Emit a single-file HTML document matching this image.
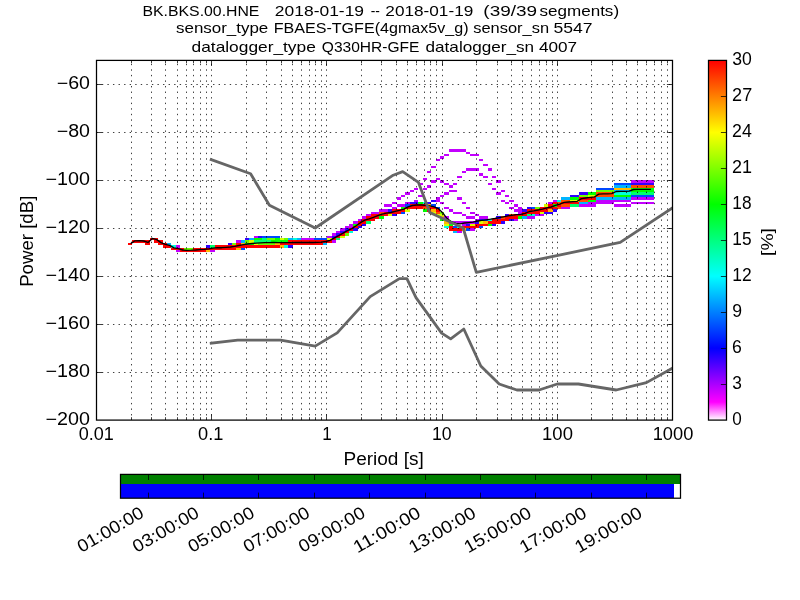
<!DOCTYPE html>
<html><head><meta charset="utf-8"><title>PPSD BK.BKS.00.HNE</title>
<style>html,body{margin:0;padding:0;background:#fff;}svg{display:block;will-change:transform;}text{font-family:"Liberation Sans",sans-serif;fill:#000;}</style></head><body>
<svg width="800" height="600" viewBox="0 0 800 600">
<rect x="0" y="0" width="800" height="600" fill="#ffffff"/>
<g shape-rendering="crispEdges">
<rect x="449" y="149" width="17" height="3" fill="#c300ff"/>
<rect x="466" y="152" width="4" height="2" fill="#c300ff"/>
<rect x="444" y="154" width="5" height="2" fill="#c300ff"/>
<rect x="470" y="154" width="9" height="2" fill="#c300ff"/>
<rect x="440" y="156" width="4" height="3" fill="#c300ff"/>
<rect x="436" y="159" width="4" height="2" fill="#c300ff"/>
<rect x="479" y="159" width="4" height="2" fill="#c300ff"/>
<rect x="483" y="164" width="5" height="2" fill="#c300ff"/>
<rect x="431" y="166" width="5" height="2" fill="#c300ff"/>
<rect x="466" y="168" width="13" height="3" fill="#c300ff"/>
<rect x="488" y="168" width="4" height="3" fill="#c300ff"/>
<rect x="427" y="171" width="4" height="2" fill="#c300ff"/>
<rect x="462" y="171" width="4" height="2" fill="#c300ff"/>
<rect x="479" y="173" width="4" height="3" fill="#c300ff"/>
<rect x="457" y="176" width="5" height="2" fill="#c300ff"/>
<rect x="483" y="176" width="5" height="2" fill="#c300ff"/>
<rect x="492" y="176" width="4" height="2" fill="#c300ff"/>
<rect x="423" y="178" width="4" height="2" fill="#c300ff"/>
<rect x="436" y="178" width="4" height="2" fill="#c300ff"/>
<rect x="431" y="180" width="5" height="3" fill="#c300ff"/>
<rect x="440" y="180" width="4" height="3" fill="#c300ff"/>
<rect x="496" y="180" width="5" height="3" fill="#c300ff"/>
<rect x="631" y="180" width="23" height="3" fill="#c300ff"/>
<rect x="614" y="183" width="17" height="2" fill="#0048ff"/>
<rect x="631" y="183" width="23" height="2" fill="#3100ff"/>
<rect x="418" y="183" width="5" height="2" fill="#c300ff"/>
<rect x="444" y="183" width="5" height="2" fill="#c300ff"/>
<rect x="453" y="183" width="4" height="2" fill="#c300ff"/>
<rect x="488" y="183" width="4" height="2" fill="#c300ff"/>
<rect x="614" y="185" width="17" height="3" fill="#00b5ff"/>
<rect x="427" y="185" width="4" height="3" fill="#c300ff"/>
<rect x="449" y="185" width="4" height="3" fill="#c300ff"/>
<rect x="631" y="185" width="23" height="3" fill="#ff4c00"/>
<rect x="596" y="188" width="18" height="2" fill="#0048ff"/>
<rect x="631" y="188" width="23" height="2" fill="#00ff02"/>
<rect x="414" y="188" width="4" height="2" fill="#c300ff"/>
<rect x="423" y="188" width="4" height="2" fill="#c300ff"/>
<rect x="492" y="188" width="4" height="2" fill="#c300ff"/>
<rect x="614" y="188" width="17" height="2" fill="#ffb900"/>
<rect x="614" y="190" width="17" height="2" fill="#00b5ff"/>
<rect x="631" y="190" width="23" height="2" fill="#00ff02"/>
<rect x="596" y="190" width="18" height="2" fill="#6bff00"/>
<rect x="410" y="190" width="4" height="2" fill="#c300ff"/>
<rect x="449" y="190" width="8" height="2" fill="#c300ff"/>
<rect x="501" y="190" width="4" height="2" fill="#c300ff"/>
<rect x="588" y="192" width="8" height="3" fill="#00ff02"/>
<rect x="631" y="192" width="23" height="3" fill="#00ff6f"/>
<rect x="614" y="192" width="17" height="3" fill="#00ffdc"/>
<rect x="579" y="192" width="9" height="3" fill="#3100ff"/>
<rect x="405" y="192" width="5" height="3" fill="#c300ff"/>
<rect x="444" y="192" width="5" height="3" fill="#c300ff"/>
<rect x="496" y="192" width="5" height="3" fill="#c300ff"/>
<rect x="596" y="192" width="18" height="3" fill="#ff4c00"/>
<rect x="631" y="195" width="23" height="2" fill="#0048ff"/>
<rect x="614" y="195" width="17" height="2" fill="#00ff02"/>
<rect x="570" y="195" width="9" height="2" fill="#3100ff"/>
<rect x="579" y="195" width="9" height="2" fill="#6bff00"/>
<rect x="401" y="195" width="4" height="2" fill="#c300ff"/>
<rect x="418" y="195" width="5" height="2" fill="#c300ff"/>
<rect x="440" y="195" width="4" height="2" fill="#c300ff"/>
<rect x="505" y="195" width="4" height="2" fill="#c300ff"/>
<rect x="588" y="195" width="8" height="2" fill="#d8ff00"/>
<rect x="596" y="195" width="18" height="2" fill="#ff4c00"/>
<rect x="561" y="197" width="9" height="3" fill="#00b5ff"/>
<rect x="596" y="197" width="35" height="3" fill="#00b5ff"/>
<rect x="570" y="197" width="9" height="3" fill="#00ff02"/>
<rect x="397" y="197" width="4" height="3" fill="#c300ff"/>
<rect x="436" y="197" width="4" height="3" fill="#c300ff"/>
<rect x="457" y="197" width="5" height="3" fill="#c300ff"/>
<rect x="631" y="197" width="23" height="3" fill="#c300ff"/>
<rect x="579" y="197" width="17" height="3" fill="#ff0000"/>
<rect x="588" y="200" width="8" height="2" fill="#00ff02"/>
<rect x="557" y="200" width="4" height="2" fill="#00ffdc"/>
<rect x="431" y="200" width="5" height="2" fill="#3100ff"/>
<rect x="414" y="200" width="4" height="2" fill="#c300ff"/>
<rect x="436" y="200" width="4" height="2" fill="#c300ff"/>
<rect x="501" y="200" width="4" height="2" fill="#c300ff"/>
<rect x="509" y="200" width="5" height="2" fill="#c300ff"/>
<rect x="553" y="200" width="4" height="2" fill="#c300ff"/>
<rect x="596" y="200" width="35" height="2" fill="#c300ff"/>
<rect x="570" y="200" width="9" height="2" fill="#d8ff00"/>
<rect x="561" y="200" width="9" height="2" fill="#ff4c00"/>
<rect x="579" y="200" width="9" height="2" fill="#ff4c00"/>
<rect x="579" y="202" width="9" height="2" fill="#00b5ff"/>
<rect x="418" y="202" width="5" height="2" fill="#00ff02"/>
<rect x="423" y="202" width="4" height="2" fill="#00ffdc"/>
<rect x="410" y="202" width="8" height="2" fill="#3100ff"/>
<rect x="427" y="202" width="4" height="2" fill="#3100ff"/>
<rect x="392" y="202" width="5" height="2" fill="#c300ff"/>
<rect x="405" y="202" width="5" height="2" fill="#c300ff"/>
<rect x="440" y="202" width="4" height="2" fill="#c300ff"/>
<rect x="462" y="202" width="4" height="2" fill="#c300ff"/>
<rect x="505" y="202" width="4" height="2" fill="#c300ff"/>
<rect x="548" y="202" width="5" height="2" fill="#c300ff"/>
<rect x="588" y="202" width="26" height="2" fill="#c300ff"/>
<rect x="631" y="202" width="23" height="2" fill="#c300ff"/>
<rect x="553" y="202" width="4" height="2" fill="#ff0000"/>
<rect x="561" y="202" width="18" height="2" fill="#ff0000"/>
<rect x="557" y="202" width="4" height="2" fill="#ff4c00"/>
<rect x="405" y="204" width="5" height="3" fill="#0048ff"/>
<rect x="431" y="204" width="5" height="3" fill="#0048ff"/>
<rect x="553" y="204" width="4" height="3" fill="#00ff02"/>
<rect x="570" y="204" width="9" height="3" fill="#00ff6f"/>
<rect x="384" y="204" width="8" height="3" fill="#c300ff"/>
<rect x="397" y="204" width="8" height="3" fill="#c300ff"/>
<rect x="514" y="204" width="4" height="3" fill="#c300ff"/>
<rect x="579" y="204" width="17" height="3" fill="#c300ff"/>
<rect x="614" y="204" width="17" height="3" fill="#c300ff"/>
<rect x="544" y="204" width="4" height="3" fill="#d8ff00"/>
<rect x="410" y="204" width="17" height="3" fill="#ff0000"/>
<rect x="548" y="204" width="5" height="3" fill="#ff0000"/>
<rect x="557" y="204" width="4" height="3" fill="#ff0000"/>
<rect x="561" y="204" width="9" height="3" fill="#ff4c00"/>
<rect x="427" y="204" width="4" height="3" fill="#ffb900"/>
<rect x="436" y="207" width="4" height="2" fill="#0048ff"/>
<rect x="531" y="207" width="4" height="2" fill="#0048ff"/>
<rect x="401" y="207" width="4" height="2" fill="#00ff02"/>
<rect x="527" y="207" width="4" height="2" fill="#3100ff"/>
<rect x="535" y="207" width="5" height="2" fill="#6bff00"/>
<rect x="392" y="207" width="5" height="2" fill="#c300ff"/>
<rect x="444" y="207" width="5" height="2" fill="#c300ff"/>
<rect x="466" y="207" width="4" height="2" fill="#c300ff"/>
<rect x="509" y="207" width="5" height="2" fill="#c300ff"/>
<rect x="518" y="207" width="4" height="2" fill="#c300ff"/>
<rect x="561" y="207" width="9" height="2" fill="#c300ff"/>
<rect x="405" y="207" width="18" height="2" fill="#ff0000"/>
<rect x="427" y="207" width="9" height="2" fill="#ff0000"/>
<rect x="540" y="207" width="17" height="2" fill="#ff0000"/>
<rect x="423" y="207" width="4" height="2" fill="#ff4c00"/>
<rect x="557" y="207" width="4" height="2" fill="#ff4c00"/>
<rect x="423" y="209" width="4" height="3" fill="#00ff02"/>
<rect x="388" y="209" width="4" height="3" fill="#3100ff"/>
<rect x="522" y="209" width="5" height="3" fill="#3100ff"/>
<rect x="553" y="209" width="4" height="3" fill="#3100ff"/>
<rect x="379" y="209" width="9" height="3" fill="#c300ff"/>
<rect x="449" y="209" width="4" height="3" fill="#c300ff"/>
<rect x="514" y="209" width="8" height="3" fill="#c300ff"/>
<rect x="405" y="209" width="5" height="3" fill="#d8ff00"/>
<rect x="392" y="209" width="13" height="3" fill="#ff0000"/>
<rect x="427" y="209" width="4" height="3" fill="#ff0000"/>
<rect x="436" y="209" width="4" height="3" fill="#ff0000"/>
<rect x="527" y="209" width="21" height="3" fill="#ff0000"/>
<rect x="431" y="209" width="5" height="3" fill="#ffb900"/>
<rect x="548" y="209" width="5" height="3" fill="#ffb900"/>
<rect x="401" y="212" width="4" height="2" fill="#0048ff"/>
<rect x="544" y="212" width="9" height="2" fill="#3100ff"/>
<rect x="440" y="212" width="4" height="2" fill="#6bff00"/>
<rect x="371" y="212" width="8" height="2" fill="#c300ff"/>
<rect x="453" y="212" width="9" height="2" fill="#c300ff"/>
<rect x="470" y="212" width="5" height="2" fill="#c300ff"/>
<rect x="518" y="212" width="4" height="2" fill="#c300ff"/>
<rect x="431" y="212" width="5" height="2" fill="#d8ff00"/>
<rect x="540" y="212" width="4" height="2" fill="#d8ff00"/>
<rect x="384" y="212" width="17" height="2" fill="#ff0000"/>
<rect x="522" y="212" width="18" height="2" fill="#ff0000"/>
<rect x="379" y="212" width="5" height="2" fill="#ff4c00"/>
<rect x="436" y="212" width="4" height="2" fill="#ff4c00"/>
<rect x="527" y="214" width="4" height="2" fill="#00ff6f"/>
<rect x="531" y="214" width="4" height="2" fill="#00ffdc"/>
<rect x="392" y="214" width="5" height="2" fill="#3100ff"/>
<rect x="505" y="214" width="4" height="2" fill="#3100ff"/>
<rect x="366" y="214" width="5" height="2" fill="#c300ff"/>
<rect x="462" y="214" width="4" height="2" fill="#c300ff"/>
<rect x="475" y="214" width="4" height="2" fill="#c300ff"/>
<rect x="535" y="214" width="9" height="2" fill="#c300ff"/>
<rect x="388" y="214" width="4" height="2" fill="#d8ff00"/>
<rect x="436" y="214" width="8" height="2" fill="#d8ff00"/>
<rect x="371" y="214" width="17" height="2" fill="#ff0000"/>
<rect x="514" y="214" width="13" height="2" fill="#ff0000"/>
<rect x="509" y="214" width="5" height="2" fill="#ff4c00"/>
<rect x="522" y="216" width="5" height="3" fill="#00b5ff"/>
<rect x="379" y="216" width="5" height="3" fill="#00ff02"/>
<rect x="518" y="216" width="4" height="3" fill="#00ff02"/>
<rect x="496" y="216" width="5" height="3" fill="#3100ff"/>
<rect x="362" y="216" width="4" height="3" fill="#c300ff"/>
<rect x="444" y="216" width="5" height="3" fill="#c300ff"/>
<rect x="466" y="216" width="9" height="3" fill="#c300ff"/>
<rect x="479" y="216" width="9" height="3" fill="#c300ff"/>
<rect x="527" y="216" width="8" height="3" fill="#c300ff"/>
<rect x="366" y="216" width="13" height="3" fill="#ff0000"/>
<rect x="505" y="216" width="13" height="3" fill="#ff0000"/>
<rect x="501" y="216" width="4" height="3" fill="#ff4c00"/>
<rect x="440" y="216" width="4" height="3" fill="#ffb900"/>
<rect x="483" y="219" width="5" height="2" fill="#0048ff"/>
<rect x="440" y="219" width="4" height="2" fill="#00ff02"/>
<rect x="488" y="219" width="4" height="2" fill="#00ffdc"/>
<rect x="479" y="219" width="4" height="2" fill="#3100ff"/>
<rect x="509" y="219" width="5" height="2" fill="#3100ff"/>
<rect x="358" y="219" width="4" height="2" fill="#c300ff"/>
<rect x="475" y="219" width="4" height="2" fill="#c300ff"/>
<rect x="514" y="219" width="4" height="2" fill="#c300ff"/>
<rect x="362" y="219" width="13" height="2" fill="#ff0000"/>
<rect x="492" y="219" width="17" height="2" fill="#ff0000"/>
<rect x="444" y="219" width="5" height="2" fill="#ffb900"/>
<rect x="366" y="221" width="5" height="3" fill="#00ff6f"/>
<rect x="475" y="221" width="4" height="3" fill="#3100ff"/>
<rect x="501" y="221" width="4" height="3" fill="#3100ff"/>
<rect x="353" y="221" width="5" height="3" fill="#c300ff"/>
<rect x="449" y="221" width="26" height="3" fill="#c300ff"/>
<rect x="479" y="221" width="4" height="3" fill="#d8ff00"/>
<rect x="358" y="221" width="8" height="3" fill="#ff0000"/>
<rect x="488" y="221" width="13" height="3" fill="#ff0000"/>
<rect x="444" y="221" width="5" height="3" fill="#ffb900"/>
<rect x="483" y="221" width="5" height="3" fill="#ffb900"/>
<rect x="353" y="224" width="5" height="2" fill="#00ff02"/>
<rect x="449" y="224" width="4" height="2" fill="#00ff02"/>
<rect x="488" y="224" width="4" height="2" fill="#00ff02"/>
<rect x="362" y="224" width="4" height="2" fill="#3100ff"/>
<rect x="466" y="224" width="4" height="2" fill="#3100ff"/>
<rect x="492" y="224" width="4" height="2" fill="#3100ff"/>
<rect x="349" y="224" width="4" height="2" fill="#c300ff"/>
<rect x="462" y="224" width="4" height="2" fill="#c300ff"/>
<rect x="444" y="224" width="5" height="2" fill="#d8ff00"/>
<rect x="470" y="224" width="5" height="2" fill="#d8ff00"/>
<rect x="358" y="224" width="4" height="2" fill="#ff0000"/>
<rect x="475" y="224" width="13" height="2" fill="#ff0000"/>
<rect x="453" y="226" width="4" height="2" fill="#0048ff"/>
<rect x="479" y="226" width="4" height="2" fill="#0048ff"/>
<rect x="444" y="226" width="5" height="2" fill="#00ffdc"/>
<rect x="457" y="226" width="5" height="2" fill="#00ffdc"/>
<rect x="358" y="226" width="4" height="2" fill="#3100ff"/>
<rect x="345" y="226" width="8" height="2" fill="#c300ff"/>
<rect x="353" y="226" width="5" height="2" fill="#ff0000"/>
<rect x="449" y="226" width="4" height="2" fill="#ff0000"/>
<rect x="462" y="226" width="17" height="2" fill="#ff0000"/>
<rect x="466" y="228" width="4" height="3" fill="#0048ff"/>
<rect x="345" y="228" width="4" height="3" fill="#3100ff"/>
<rect x="353" y="228" width="5" height="3" fill="#3100ff"/>
<rect x="340" y="228" width="5" height="3" fill="#c300ff"/>
<rect x="470" y="228" width="5" height="3" fill="#c300ff"/>
<rect x="349" y="228" width="4" height="3" fill="#ff0000"/>
<rect x="449" y="228" width="13" height="3" fill="#ff0000"/>
<rect x="462" y="228" width="4" height="3" fill="#ffb900"/>
<rect x="453" y="231" width="4" height="2" fill="#00b5ff"/>
<rect x="349" y="231" width="4" height="2" fill="#00ffdc"/>
<rect x="340" y="231" width="5" height="2" fill="#3100ff"/>
<rect x="336" y="231" width="4" height="2" fill="#c300ff"/>
<rect x="457" y="231" width="5" height="2" fill="#c300ff"/>
<rect x="345" y="231" width="4" height="2" fill="#ff0000"/>
<rect x="336" y="233" width="4" height="3" fill="#3100ff"/>
<rect x="345" y="233" width="4" height="3" fill="#6bff00"/>
<rect x="332" y="233" width="4" height="3" fill="#c300ff"/>
<rect x="340" y="233" width="5" height="3" fill="#ff0000"/>
<rect x="262" y="236" width="18" height="2" fill="#0048ff"/>
<rect x="258" y="236" width="4" height="2" fill="#3100ff"/>
<rect x="332" y="236" width="4" height="2" fill="#3100ff"/>
<rect x="254" y="236" width="4" height="2" fill="#c300ff"/>
<rect x="327" y="236" width="5" height="2" fill="#c300ff"/>
<rect x="340" y="236" width="5" height="2" fill="#d8ff00"/>
<rect x="336" y="236" width="4" height="2" fill="#ff0000"/>
<rect x="314" y="238" width="13" height="2" fill="#0048ff"/>
<rect x="249" y="238" width="5" height="2" fill="#00b5ff"/>
<rect x="288" y="238" width="5" height="2" fill="#00b5ff"/>
<rect x="297" y="238" width="4" height="2" fill="#00b5ff"/>
<rect x="254" y="238" width="8" height="2" fill="#00ff02"/>
<rect x="275" y="238" width="5" height="2" fill="#00ff02"/>
<rect x="262" y="238" width="5" height="2" fill="#00ff6f"/>
<rect x="336" y="238" width="4" height="2" fill="#00ff6f"/>
<rect x="293" y="238" width="4" height="2" fill="#00ffdc"/>
<rect x="245" y="238" width="4" height="2" fill="#3100ff"/>
<rect x="267" y="238" width="8" height="2" fill="#6bff00"/>
<rect x="284" y="238" width="4" height="2" fill="#6bff00"/>
<rect x="301" y="238" width="13" height="2" fill="#c300ff"/>
<rect x="280" y="238" width="4" height="2" fill="#d8ff00"/>
<rect x="327" y="238" width="5" height="2" fill="#d8ff00"/>
<rect x="150" y="238" width="8" height="2" fill="#ff0000"/>
<rect x="332" y="238" width="4" height="2" fill="#ff0000"/>
<rect x="241" y="240" width="4" height="3" fill="#00b5ff"/>
<rect x="271" y="240" width="17" height="3" fill="#00ff02"/>
<rect x="254" y="240" width="17" height="3" fill="#00ff6f"/>
<rect x="245" y="240" width="4" height="3" fill="#6bff00"/>
<rect x="236" y="240" width="5" height="3" fill="#c300ff"/>
<rect x="332" y="240" width="4" height="3" fill="#c300ff"/>
<rect x="249" y="240" width="5" height="3" fill="#d8ff00"/>
<rect x="132" y="240" width="18" height="3" fill="#ff0000"/>
<rect x="154" y="240" width="9" height="3" fill="#ff0000"/>
<rect x="288" y="240" width="44" height="3" fill="#ff0000"/>
<rect x="167" y="243" width="4" height="2" fill="#00b5ff"/>
<rect x="323" y="243" width="4" height="2" fill="#00b5ff"/>
<rect x="245" y="243" width="9" height="2" fill="#00ff02"/>
<rect x="228" y="243" width="4" height="2" fill="#3100ff"/>
<rect x="232" y="243" width="4" height="2" fill="#6bff00"/>
<rect x="258" y="243" width="17" height="2" fill="#6bff00"/>
<rect x="254" y="243" width="4" height="2" fill="#d8ff00"/>
<rect x="128" y="243" width="4" height="2" fill="#ff0000"/>
<rect x="145" y="243" width="5" height="2" fill="#ff0000"/>
<rect x="158" y="243" width="9" height="2" fill="#ff0000"/>
<rect x="236" y="243" width="5" height="2" fill="#ff0000"/>
<rect x="280" y="243" width="43" height="2" fill="#ff0000"/>
<rect x="241" y="243" width="4" height="2" fill="#ffb900"/>
<rect x="275" y="243" width="5" height="2" fill="#ffb900"/>
<rect x="210" y="245" width="5" height="3" fill="#00ff6f"/>
<rect x="171" y="245" width="5" height="3" fill="#00ffdc"/>
<rect x="284" y="245" width="4" height="3" fill="#00ffdc"/>
<rect x="206" y="245" width="4" height="3" fill="#3100ff"/>
<rect x="288" y="245" width="5" height="3" fill="#3100ff"/>
<rect x="176" y="245" width="4" height="3" fill="#c300ff"/>
<rect x="163" y="245" width="8" height="3" fill="#ff0000"/>
<rect x="215" y="245" width="65" height="3" fill="#ff0000"/>
<rect x="280" y="245" width="4" height="3" fill="#ffb900"/>
<rect x="241" y="248" width="4" height="2" fill="#0048ff"/>
<rect x="184" y="248" width="9" height="2" fill="#6bff00"/>
<rect x="171" y="248" width="13" height="2" fill="#ff0000"/>
<rect x="193" y="248" width="43" height="2" fill="#ff0000"/>
<rect x="236" y="248" width="5" height="2" fill="#ffb900"/>
<rect x="176" y="250" width="4" height="2" fill="#c300ff"/>
<rect x="210" y="250" width="5" height="2" fill="#c300ff"/>
<rect x="180" y="250" width="26" height="2" fill="#ff0000"/>
<rect x="206" y="250" width="4" height="2" fill="#ffb900"/>
</g>
<g stroke="#000" stroke-width="0.75" stroke-dasharray="1.39 4.17" fill="none">
<path d="M131.50 420.00V60.00" stroke-dashoffset="1"/>
<path d="M151.50 420.00V60.00" stroke-dashoffset="1"/>
<path d="M165.50 420.00V60.00" stroke-dashoffset="1"/>
<path d="M177.50 420.00V60.00" stroke-dashoffset="1"/>
<path d="M186.50 420.00V60.00" stroke-dashoffset="1"/>
<path d="M193.50 420.00V60.00" stroke-dashoffset="1"/>
<path d="M200.50 420.00V60.00" stroke-dashoffset="1"/>
<path d="M206.50 420.00V60.00" stroke-dashoffset="1"/>
<path d="M211.50 420.00V60.00" stroke-dashoffset="1"/>
<path d="M246.50 420.00V60.00" stroke-dashoffset="1"/>
<path d="M266.50 420.00V60.00" stroke-dashoffset="1"/>
<path d="M281.50 420.00V60.00" stroke-dashoffset="1"/>
<path d="M292.50 420.00V60.00" stroke-dashoffset="1"/>
<path d="M301.50 420.00V60.00" stroke-dashoffset="1"/>
<path d="M309.50 420.00V60.00" stroke-dashoffset="1"/>
<path d="M315.50 420.00V60.00" stroke-dashoffset="1"/>
<path d="M321.50 420.00V60.00" stroke-dashoffset="1"/>
<path d="M326.50 420.00V60.00" stroke-dashoffset="1"/>
<path d="M361.50 420.00V60.00" stroke-dashoffset="1"/>
<path d="M381.50 420.00V60.00" stroke-dashoffset="1"/>
<path d="M396.50 420.00V60.00" stroke-dashoffset="1"/>
<path d="M407.50 420.00V60.00" stroke-dashoffset="1"/>
<path d="M416.50 420.00V60.00" stroke-dashoffset="1"/>
<path d="M424.50 420.00V60.00" stroke-dashoffset="1"/>
<path d="M430.50 420.00V60.00" stroke-dashoffset="1"/>
<path d="M436.50 420.00V60.00" stroke-dashoffset="1"/>
<path d="M442.50 420.00V60.00" stroke-dashoffset="1"/>
<path d="M476.50 420.00V60.00" stroke-dashoffset="1"/>
<path d="M497.50 420.00V60.00" stroke-dashoffset="1"/>
<path d="M511.50 420.00V60.00" stroke-dashoffset="1"/>
<path d="M522.50 420.00V60.00" stroke-dashoffset="1"/>
<path d="M531.50 420.00V60.00" stroke-dashoffset="1"/>
<path d="M539.50 420.00V60.00" stroke-dashoffset="1"/>
<path d="M546.50 420.00V60.00" stroke-dashoffset="1"/>
<path d="M552.50 420.00V60.00" stroke-dashoffset="1"/>
<path d="M557.50 420.00V60.00" stroke-dashoffset="1"/>
<path d="M591.50 420.00V60.00" stroke-dashoffset="1"/>
<path d="M612.50 420.00V60.00" stroke-dashoffset="1"/>
<path d="M626.50 420.00V60.00" stroke-dashoffset="1"/>
<path d="M637.50 420.00V60.00" stroke-dashoffset="1"/>
<path d="M646.50 420.00V60.00" stroke-dashoffset="1"/>
<path d="M654.50 420.00V60.00" stroke-dashoffset="1"/>
<path d="M661.50 420.00V60.00" stroke-dashoffset="1"/>
<path d="M667.50 420.00V60.00" stroke-dashoffset="1"/>
<path d="M96.00 372.50H672.00" stroke-dashoffset="-0.3"/>
<path d="M96.00 324.50H672.00" stroke-dashoffset="-0.3"/>
<path d="M96.00 276.50H672.00" stroke-dashoffset="-0.3"/>
<path d="M96.00 228.50H672.00" stroke-dashoffset="-0.3"/>
<path d="M96.00 180.50H672.00" stroke-dashoffset="-0.3"/>
<path d="M96.00 132.50H672.00" stroke-dashoffset="-0.3"/>
<path d="M96.00 84.50H672.00" stroke-dashoffset="-0.3"/>
</g>
<polyline points="130.7,243.6 135.0,240.8 139.3,240.7 143.7,241.0 148.0,242.4 152.4,238.4 156.7,239.6 161.0,242.6 165.4,244.4 169.7,245.4 174.0,247.8 178.4,248.7 182.7,250.0 187.0,250.3 191.4,250.2 195.7,250.0 200.0,249.6 204.4,249.3 208.7,248.9 213.0,248.2 217.4,247.7 221.7,247.7 226.0,247.4 230.4,247.0 234.7,246.3 239.0,245.5 243.4,244.6 247.7,244.0 252.1,243.5 256.4,243.1 260.7,242.9 265.1,242.7 269.4,242.6 273.7,242.5 278.1,242.6 282.4,242.6 286.7,242.6 291.1,242.6 295.4,242.5 299.7,242.5 304.1,242.5 308.4,242.5 312.7,242.5 317.1,242.4 321.4,242.2 325.7,241.5 330.1,240.4 334.4,237.8 338.7,235.6 343.1,233.1 347.4,230.6 351.8,228.6 356.1,225.8 360.4,222.7 364.8,220.2 369.1,218.9 373.4,217.4 377.8,215.6 382.1,214.1 386.4,213.1 390.8,212.5 395.1,211.3 399.4,210.3 403.8,209.1 408.1,206.9 412.4,205.5 416.8,205.0 421.1,205.0 425.4,205.3 429.8,205.8 434.1,206.8 438.5,208.7 442.8,212.9 447.1,218.6 451.5,221.8 455.8,223.4 460.1,223.8 464.5,223.0 468.8,222.6 473.1,222.2 477.5,221.0 481.8,220.4 486.1,219.8 490.5,219.2 494.8,218.5 499.1,217.7 503.5,216.8 507.8,215.9 512.1,215.3 516.5,214.7 520.8,214.4 525.1,213.3 529.5,211.5 533.8,210.9 538.2,210.0 542.5,209.1 546.8,207.9 551.2,207.0 555.5,205.3 559.8,204.1 564.2,202.4 568.5,202.0 572.8,201.7 577.2,201.3 581.5,198.6 585.8,198.0 590.2,197.4 594.5,196.9 598.8,194.1 603.2,193.9 607.5,193.8 611.8,193.6 616.2,191.5 620.5,191.4 624.8,191.3 629.2,191.2 633.5,189.5 637.9,189.4 642.2,189.4 646.5,189.4 650.9,189.4" fill="none" stroke="#000" stroke-width="1.35" stroke-linejoin="round"/>
<defs><clipPath id="axclip"><rect x="96" y="60" width="576.5" height="360"/></clipPath></defs>
<polyline points="211.2,159.6 250.6,173.8 269.4,205.2 315.2,228.0 393.2,175.2 402.7,171.6 418.5,182.4 429.8,212.4 463.2,228.0 476.3,272.4 620.2,242.4 672.0,208.3" fill="none" stroke="#666666" stroke-width="2.8" stroke-linejoin="round" stroke-linecap="square" clip-path="url(#axclip)"/>
<polyline points="211.2,343.2 237.7,340.1 280.6,340.1 315.2,346.1 337.2,332.9 370.2,296.6 399.4,278.6 406.9,278.6 416.0,297.6 441.6,333.1 450.7,338.9 463.8,329.0 480.8,366.0 499.2,384.0 516.9,390.0 539.0,390.0 557.3,384.0 578.4,384.0 616.2,390.0 646.4,382.6 672.0,368.4" fill="none" stroke="#666666" stroke-width="2.8" stroke-linejoin="round" stroke-linecap="square" clip-path="url(#axclip)"/>
<g stroke="#000" stroke-width="1.25" fill="none">
<rect x="96.5" y="60.4" width="576" height="359.7"/>
</g>
<g stroke="#000" stroke-width="0.75" fill="none">
<path d="M96.5 372.5h5.6M672.5 372.5h-5.6"/>
<path d="M96.5 324.5h5.6M672.5 324.5h-5.6"/>
<path d="M96.5 276.5h5.6M672.5 276.5h-5.6"/>
<path d="M96.5 228.5h5.6M672.5 228.5h-5.6"/>
<path d="M96.5 180.5h5.6M672.5 180.5h-5.6"/>
<path d="M96.5 132.5h5.6M672.5 132.5h-5.6"/>
<path d="M96.5 84.5h5.6M672.5 84.5h-5.6"/>
<path d="M131.5 420v-2.8M131.5 60.4v2.8"/>
<path d="M151.5 420v-2.8M151.5 60.4v2.8"/>
<path d="M165.5 420v-2.8M165.5 60.4v2.8"/>
<path d="M177.5 420v-2.8M177.5 60.4v2.8"/>
<path d="M186.5 420v-2.8M186.5 60.4v2.8"/>
<path d="M193.5 420v-2.8M193.5 60.4v2.8"/>
<path d="M200.5 420v-2.8M200.5 60.4v2.8"/>
<path d="M206.5 420v-2.8M206.5 60.4v2.8"/>
<path d="M211.5 420v-5.6M211.5 60.4v5.6"/>
<path d="M246.5 420v-2.8M246.5 60.4v2.8"/>
<path d="M266.5 420v-2.8M266.5 60.4v2.8"/>
<path d="M281.5 420v-2.8M281.5 60.4v2.8"/>
<path d="M292.5 420v-2.8M292.5 60.4v2.8"/>
<path d="M301.5 420v-2.8M301.5 60.4v2.8"/>
<path d="M309.5 420v-2.8M309.5 60.4v2.8"/>
<path d="M315.5 420v-2.8M315.5 60.4v2.8"/>
<path d="M321.5 420v-2.8M321.5 60.4v2.8"/>
<path d="M326.5 420v-5.6M326.5 60.4v5.6"/>
<path d="M361.5 420v-2.8M361.5 60.4v2.8"/>
<path d="M381.5 420v-2.8M381.5 60.4v2.8"/>
<path d="M396.5 420v-2.8M396.5 60.4v2.8"/>
<path d="M407.5 420v-2.8M407.5 60.4v2.8"/>
<path d="M416.5 420v-2.8M416.5 60.4v2.8"/>
<path d="M424.5 420v-2.8M424.5 60.4v2.8"/>
<path d="M430.5 420v-2.8M430.5 60.4v2.8"/>
<path d="M436.5 420v-2.8M436.5 60.4v2.8"/>
<path d="M442.5 420v-5.6M442.5 60.4v5.6"/>
<path d="M476.5 420v-2.8M476.5 60.4v2.8"/>
<path d="M497.5 420v-2.8M497.5 60.4v2.8"/>
<path d="M511.5 420v-2.8M511.5 60.4v2.8"/>
<path d="M522.5 420v-2.8M522.5 60.4v2.8"/>
<path d="M531.5 420v-2.8M531.5 60.4v2.8"/>
<path d="M539.5 420v-2.8M539.5 60.4v2.8"/>
<path d="M546.5 420v-2.8M546.5 60.4v2.8"/>
<path d="M552.5 420v-2.8M552.5 60.4v2.8"/>
<path d="M557.5 420v-5.6M557.5 60.4v5.6"/>
<path d="M591.5 420v-2.8M591.5 60.4v2.8"/>
<path d="M612.5 420v-2.8M612.5 60.4v2.8"/>
<path d="M626.5 420v-2.8M626.5 60.4v2.8"/>
<path d="M637.5 420v-2.8M637.5 60.4v2.8"/>
<path d="M646.5 420v-2.8M646.5 60.4v2.8"/>
<path d="M654.5 420v-2.8M654.5 60.4v2.8"/>
<path d="M661.5 420v-2.8M661.5 60.4v2.8"/>
<path d="M667.5 420v-2.8M667.5 60.4v2.8"/>
</g>
<text x="45.51" y="424.80" font-size="17.50" textLength="44.43" lengthAdjust="spacingAndGlyphs">−200</text>
<text x="45.51" y="376.80" font-size="17.50" textLength="44.43" lengthAdjust="spacingAndGlyphs">−180</text>
<text x="45.51" y="328.80" font-size="17.50" textLength="44.43" lengthAdjust="spacingAndGlyphs">−160</text>
<text x="45.51" y="280.80" font-size="17.50" textLength="44.43" lengthAdjust="spacingAndGlyphs">−140</text>
<text x="45.51" y="232.80" font-size="17.50" textLength="44.43" lengthAdjust="spacingAndGlyphs">−120</text>
<text x="45.51" y="184.80" font-size="17.50" textLength="44.43" lengthAdjust="spacingAndGlyphs">−100</text>
<text x="56.72" y="136.80" font-size="17.50" textLength="33.19" lengthAdjust="spacingAndGlyphs">−80</text>
<text x="56.72" y="88.80" font-size="17.50" textLength="33.19" lengthAdjust="spacingAndGlyphs">−60</text>
<text x="78.78" y="440.00" font-size="17.50" textLength="35.05" lengthAdjust="spacingAndGlyphs">0.01</text>
<text x="198.02" y="440.00" font-size="17.50" textLength="25.30" lengthAdjust="spacingAndGlyphs">0.1</text>
<text x="322.32" y="440.00" font-size="17.50" textLength="9.46" lengthAdjust="spacingAndGlyphs">1</text>
<text x="431.97" y="440.00" font-size="17.50" textLength="19.69" lengthAdjust="spacingAndGlyphs">10</text>
<text x="542.12" y="440.00" font-size="17.50" textLength="30.80" lengthAdjust="spacingAndGlyphs">100</text>
<text x="652.73" y="440.00" font-size="17.50" textLength="40.60" lengthAdjust="spacingAndGlyphs">1000</text>
<text x="343.48" y="464.90" font-size="17.50" textLength="80.33" lengthAdjust="spacingAndGlyphs">Period [s]</text>
<g transform="translate(33,0) rotate(-90)">
<text x="-286.89" y="0.00" font-size="17.50" textLength="91.22" lengthAdjust="spacingAndGlyphs">Power [dB]</text>
</g>
<text x="142.54" y="15.50" font-size="14.80" textLength="116.88" lengthAdjust="spacingAndGlyphs">BK.BKS.00.HNE</text>
<text x="274.88" y="15.50" font-size="14.80" textLength="89.16" lengthAdjust="spacingAndGlyphs">2018-01-19</text>
<text x="370.63" y="15.50" font-size="14.80" textLength="9.19" lengthAdjust="spacingAndGlyphs">--</text>
<text x="385.39" y="15.50" font-size="14.80" textLength="87.89" lengthAdjust="spacingAndGlyphs">2018-01-19</text>
<text x="483.36" y="15.50" font-size="14.80" textLength="53.75" lengthAdjust="spacingAndGlyphs">(39/39</text>
<text x="539.49" y="15.50" font-size="14.80" textLength="79.60" lengthAdjust="spacingAndGlyphs">segments)</text>
<text x="175.99" y="32.80" font-size="14.80" textLength="92.32" lengthAdjust="spacingAndGlyphs">sensor_type</text>
<text x="273.71" y="32.80" font-size="14.80" textLength="194.83" lengthAdjust="spacingAndGlyphs">FBAES-TGFE(4gmax5v_g)</text>
<text x="473.26" y="32.80" font-size="14.80" textLength="75.79" lengthAdjust="spacingAndGlyphs">sensor_sn</text>
<text x="553.55" y="32.80" font-size="14.80" textLength="39.08" lengthAdjust="spacingAndGlyphs">5547</text>
<text x="191.56" y="51.80" font-size="14.80" textLength="124.27" lengthAdjust="spacingAndGlyphs">datalogger_type</text>
<text x="321.80" y="51.80" font-size="14.80" textLength="97.64" lengthAdjust="spacingAndGlyphs">Q330HR-GFE</text>
<text x="425.56" y="51.80" font-size="14.80" textLength="108.61" lengthAdjust="spacingAndGlyphs">datalogger_sn</text>
<text x="538.91" y="51.80" font-size="14.80" textLength="38.20" lengthAdjust="spacingAndGlyphs">4007</text>
<defs><linearGradient id="cb" x1="0" y1="1" x2="0" y2="0">
<stop offset="0.00" stop-color="#ffffff"/>
<stop offset="0.05" stop-color="#ff00ff"/>
<stop offset="0.20" stop-color="#0000ff"/>
<stop offset="0.40" stop-color="#00ffff"/>
<stop offset="0.60" stop-color="#00ff00"/>
<stop offset="0.80" stop-color="#ffff00"/>
<stop offset="1.00" stop-color="#ff0000"/>
</linearGradient></defs>
<rect x="708.5" y="60.4" width="18" height="359.7" fill="url(#cb)" stroke="#000" stroke-width="1.25"/>
<g stroke="#000" stroke-width="0.75" fill="none">
<path d="M726.5 384.5h-5.6"/>
<path d="M726.5 348.5h-5.6"/>
<path d="M726.5 312.5h-5.6"/>
<path d="M726.5 276.5h-5.6"/>
<path d="M726.5 240.5h-5.6"/>
<path d="M726.5 204.5h-5.6"/>
<path d="M726.5 168.5h-5.6"/>
<path d="M726.5 132.5h-5.6"/>
<path d="M726.5 96.5h-5.6"/>
</g>
<text x="732.32" y="424.80" font-size="17.50" textLength="9.50" lengthAdjust="spacingAndGlyphs">0</text>
<text x="732.31" y="388.80" font-size="17.50" textLength="9.60" lengthAdjust="spacingAndGlyphs">3</text>
<text x="732.12" y="352.80" font-size="17.50" textLength="9.81" lengthAdjust="spacingAndGlyphs">6</text>
<text x="732.21" y="316.80" font-size="17.50" textLength="9.81" lengthAdjust="spacingAndGlyphs">9</text>
<text x="732.29" y="280.80" font-size="17.50" textLength="19.42" lengthAdjust="spacingAndGlyphs">12</text>
<text x="732.30" y="244.80" font-size="17.50" textLength="19.23" lengthAdjust="spacingAndGlyphs">15</text>
<text x="732.30" y="208.80" font-size="17.50" textLength="19.23" lengthAdjust="spacingAndGlyphs">18</text>
<text x="732.10" y="172.80" font-size="17.50" textLength="20.00" lengthAdjust="spacingAndGlyphs">21</text>
<text x="732.11" y="136.80" font-size="17.50" textLength="19.71" lengthAdjust="spacingAndGlyphs">24</text>
<text x="732.10" y="100.80" font-size="17.50" textLength="20.10" lengthAdjust="spacingAndGlyphs">27</text>
<text x="732.29" y="64.80" font-size="17.50" textLength="19.61" lengthAdjust="spacingAndGlyphs">30</text>
<g transform="translate(772.6,0) rotate(-90)">
<text x="-255.95" y="0.00" font-size="16.40" textLength="27.78" lengthAdjust="spacingAndGlyphs">[%]</text>
</g>
<g shape-rendering="crispEdges">
<rect x="120" y="474" width="560" height="10" fill="#008000"/>
<rect x="120" y="484" width="554" height="14" fill="#0000ff"/>
</g>
<rect x="120.5" y="474.4" width="560" height="23.8" fill="none" stroke="#000" stroke-width="1.25"/>
<g stroke="#000" stroke-width="0.75" fill="none">
<path d="M148.5 474.4v5.6M148.5 498.2v-5.6"/>
<path d="M203.5 474.4v5.6M203.5 498.2v-5.6"/>
<path d="M258.5 474.4v5.6M258.5 498.2v-5.6"/>
<path d="M314.5 474.4v5.6M314.5 498.2v-5.6"/>
<path d="M369.5 474.4v5.6M369.5 498.2v-5.6"/>
<path d="M425.5 474.4v5.6M425.5 498.2v-5.6"/>
<path d="M480.5 474.4v5.6M480.5 498.2v-5.6"/>
<path d="M535.5 474.4v5.6M535.5 498.2v-5.6"/>
<path d="M591.5 474.4v5.6M591.5 498.2v-5.6"/>
<path d="M646.5 474.4v5.6M646.5 498.2v-5.6"/>
</g>
<g transform="translate(144.95,516.40) rotate(-30)">
<text x="-73.35" y="0.00" font-size="17.50" textLength="73.47" lengthAdjust="spacingAndGlyphs">01:00:00</text>
</g>
<g transform="translate(200.31,516.40) rotate(-30)">
<text x="-73.35" y="0.00" font-size="17.50" textLength="73.47" lengthAdjust="spacingAndGlyphs">03:00:00</text>
</g>
<g transform="translate(255.67,516.40) rotate(-30)">
<text x="-73.35" y="0.00" font-size="17.50" textLength="73.47" lengthAdjust="spacingAndGlyphs">05:00:00</text>
</g>
<g transform="translate(311.03,516.40) rotate(-30)">
<text x="-73.35" y="0.00" font-size="17.50" textLength="73.47" lengthAdjust="spacingAndGlyphs">07:00:00</text>
</g>
<g transform="translate(366.39,516.40) rotate(-30)">
<text x="-73.35" y="0.00" font-size="17.50" textLength="73.47" lengthAdjust="spacingAndGlyphs">09:00:00</text>
</g>
<g transform="translate(421.75,516.40) rotate(-30)">
<text x="-74.06" y="0.00" font-size="17.50" textLength="74.20" lengthAdjust="spacingAndGlyphs">11:00:00</text>
</g>
<g transform="translate(477.11,516.40) rotate(-30)">
<text x="-74.03" y="0.00" font-size="17.50" textLength="74.15" lengthAdjust="spacingAndGlyphs">13:00:00</text>
</g>
<g transform="translate(532.47,516.40) rotate(-30)">
<text x="-74.03" y="0.00" font-size="17.50" textLength="74.15" lengthAdjust="spacingAndGlyphs">15:00:00</text>
</g>
<g transform="translate(587.83,516.40) rotate(-30)">
<text x="-74.03" y="0.00" font-size="17.50" textLength="74.15" lengthAdjust="spacingAndGlyphs">17:00:00</text>
</g>
<g transform="translate(643.19,516.40) rotate(-30)">
<text x="-74.03" y="0.00" font-size="17.50" textLength="74.15" lengthAdjust="spacingAndGlyphs">19:00:00</text>
</g>
</svg></body></html>
